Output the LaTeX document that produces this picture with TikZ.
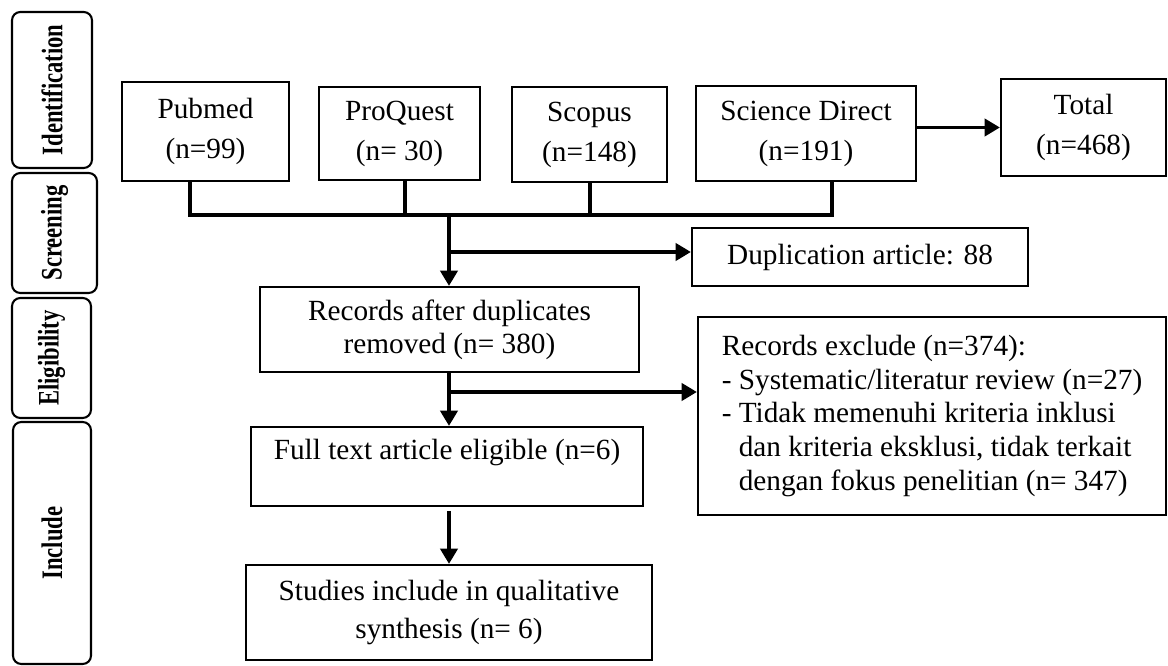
\documentclass[tikz,border=0pt]{standalone}
\usepackage{fontspec}
\usepackage{graphicx}
\setmainfont{Liberation Serif}
\usetikzlibrary{arrows.meta,calc}
\newcommand\phasetext[1]{\scalebox{0.76}[1]{#1}}
\tikzset{
  boxsize/.style 2 args={minimum width=#1*0.41pt,minimum height=#2*0.41pt},
  stagebox/.style={draw=black,line width=0.85pt,align=center,inner sep=0pt,font=\fontsize{12pt}{16.4pt}\selectfont},
  phasebox/.style={draw=black,line width=0.85pt,rounded corners=3.4pt,rotate=90,inner sep=0pt,font=\fontsize{12.2pt}{14pt}\selectfont\bfseries},
  link/.style={draw=black,line width=1.6pt},
  arr/.style={-{Triangle[length=6.3pt,width=7pt]},draw=black,line width=1.6pt}
}

\begin{document}
\begin{tikzpicture}[x=0.41pt,y=-0.41pt]
  \useasboundingbox (0,0) rectangle (1168,666);
  % phases
  \node[phasebox,boxsize={156}{80}] (ident) at (52,90) {\phasetext{Identification}};
  \node[phasebox,boxsize={120}{85}] (screen) at (54.5,233) {\phasetext{Screening}};
  \node[phasebox,boxsize={120}{79}] (elig) at (51.5,358) {\phasetext{Eligibility}};
  \node[phasebox,boxsize={242}{78}] (incl) at (52,543) {\phasetext{Include}};
  % databases
  \node[stagebox,boxsize={167}{99}] (pubmed) at (205.5,131.5) {Pubmed\\(n=99)};
  \node[stagebox,boxsize={161}{93}] (proquest) at (399.5,133.5) {ProQuest\\(n= 30)};
  \node[stagebox,boxsize={155}{95}] (scopus) at (589.5,134.5) {Scopus\\(n=148)};
  \node[stagebox,boxsize={220}{95}] (scidir) at (806,133.5) {Science Direct\\(n=191)};
  \node[stagebox,boxsize={165}{97}] (total) at (1083.5,127.5) {Total\\(n=468)};
  % flow
  \node[stagebox,boxsize={336}{58}] (dup) at (860,257) {Duplication article: 88};
  \node[stagebox,boxsize={379}{85},font=\fontsize{12pt}{13.5pt}\selectfont] (records) at (449.5,329.5) {Records after duplicates\\removed (n= 380)};
  \node[stagebox,boxsize={468}{198},align=left,font=\fontsize{12pt}{13.8pt}\selectfont] (excl) at (932,416) {Records exclude (n=374):\\- Systematic/literatur review (n=27)\\- Tidak memenuhi kriteria inklusi\\\phantom{- }dan kriteria eksklusi, tidak terkait\\\phantom{- }dengan fokus penelitian (n= 347)};
  \node[stagebox,boxsize={392}{79},font=\fontsize{12pt}{14pt}\selectfont] (full) at (447,466.5) {Full text article eligible (n=6)\\\mbox{}};
  \node[stagebox,boxsize={406}{95},font=\fontsize{12pt}{15.6pt}\selectfont] (studies) at (449,612.5) {Studies include in qualitative\\synthesis (n= 6)};
  % connectors
  \coordinate (busW) at (190,215);
  \coordinate (busP) at (405,215);
  \coordinate (busD) at (449,215);
  \coordinate (busS) at (590,215);
  \coordinate (busE) at (832,215);
  \coordinate (split1) at (449,252);
  \coordinate (split2) at (449,392);
  \draw[link] (pubmed.south -| busW) -- (busW) -- (busE) -- (scidir.south -| busE);
  \draw[link] (proquest.south -| busP) -- (busP);
  \draw[link] (scopus.south -| busS) -- (busS);
  \draw[arr] (scidir.east |- total.west) -- (total.west);
  \draw[arr] (busD) -- (busD |- records.north);
  \draw[arr] (split1) -- (split1 -| dup.west);
  \draw[arr] (records.south -| busD) -- (full.north -| busD);
  \draw[arr] (split2) -- (split2 -| excl.west);
  \draw[arr,shorten <=1.6pt] (full.south -| busD) -- (studies.north -| busD);
\end{tikzpicture}
\end{document}
